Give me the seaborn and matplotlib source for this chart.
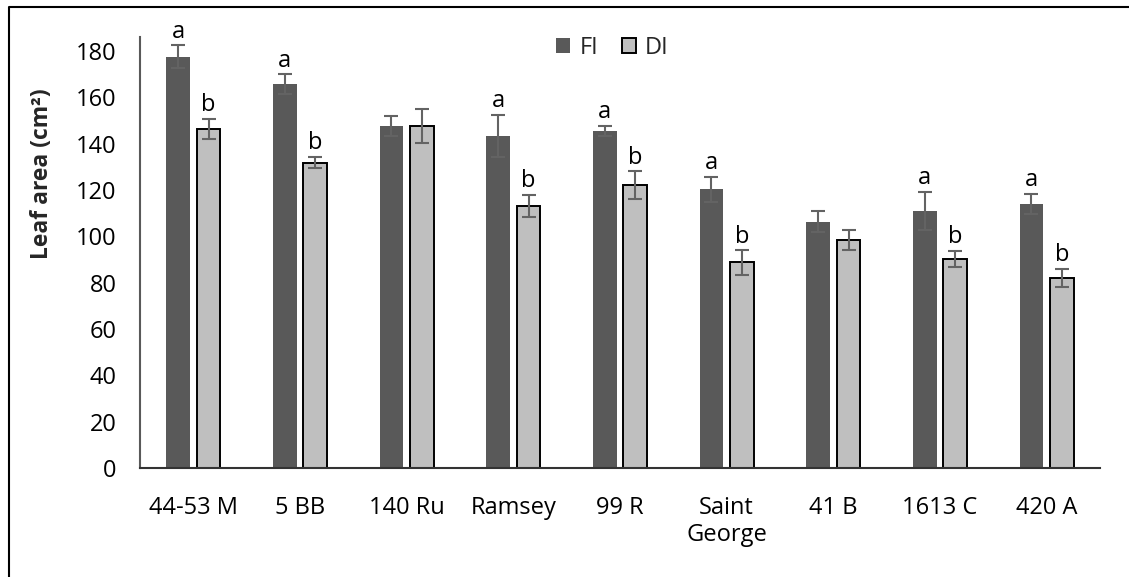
import matplotlib
matplotlib.use("Agg")
import matplotlib.pyplot as plt
import seaborn as sns
import pandas as pd
import numpy as np
from matplotlib.patches import Patch
from matplotlib.lines import Line2D

categories = ["44-53 M", "5 BB", "140 Ru", "Ramsey", "99 R", "Saint\nGeorge", "41 B", "1613 C", "420 A"]
fi = [177.5, 165.7, 147.6, 143.4, 145.6, 120.3, 106.3, 110.9, 114.1]
fi_err = [5.0, 4.3, 4.3, 9.0, 2.2, 5.4, 4.6, 8.4, 4.3]
di = [146.4, 131.8, 147.6, 113.1, 122.0, 88.8, 98.4, 90.2, 82.1]
di_err = [4.3, 2.5, 7.3, 4.8, 6.0, 5.3, 4.3, 3.5, 3.9]
fi_letters = ["a", "a", "", "a", "a", "a", "", "a", "a"]
di_letters = ["b", "b", "", "b", "b", "b", "", "b", "b"]
series = ["FI", "DI"]
y_ticks = [0, 20, 40, 60, 80, 100, 120, 140, 160, 180]

sns.set_style("white")
plt.rcParams["font.family"] = ["Open Sans", "DejaVu Sans"]

df = pd.DataFrame({
    "Genotype": categories * 2,
    "Treatment": [series[0]] * len(categories) + [series[1]] * len(categories),
    "Leaf area": fi + di,
})

fig = plt.figure(figsize=(11.29, 5.77), dpi=100)
ax = fig.add_axes([140 / 1129, 1 - 468 / 577, 960 / 1129, 431 / 577])

fi_color = "#595959"
di_color = "#bfbfbf"
sns.barplot(data=df, x="Genotype", y="Leaf area", hue="Treatment",
            hue_order=series, palette=[fi_color, di_color],
            errorbar=None, width=0.57, gap=0.23, ax=ax, saturation=1)

if ax.get_legend() is not None:
    ax.get_legend().remove()

for p in ax.containers[0]:
    p.set_edgecolor("none")
for p in ax.containers[1]:
    p.set_edgecolor("black")
    p.set_linewidth(1.4)

for cont, vals, errs, letters in [(ax.containers[0], fi, fi_err, fi_letters),
                                  (ax.containers[1], di, di_err, di_letters)]:
    xs = [p.get_x() + p.get_width() / 2 for p in cont]
    ax.errorbar(xs, vals, yerr=errs, fmt="none", ecolor="#636363",
                elinewidth=1.5, capsize=4.7, capthick=1.5, zorder=5)
    for x, v, e, t in zip(xs, vals, errs, letters):
        if t:
            ax.annotate(t, (x, v + e), xytext=(0, 1), textcoords="offset points",
                        ha="center", va="bottom", fontsize=17, color="black")

ax.set_ylim(0, 186)
ax.set_xlim(-0.5, len(categories) - 0.5)
ax.set_yticks(y_ticks)
ax.tick_params(axis="both", length=0, labelsize=17, colors="black")
ax.tick_params(axis="y", pad=17)
ax.tick_params(axis="x", pad=20)
ax.set_xlabel("")
ax.set_ylabel("Leaf area (cm²)", fontsize=16.5, fontweight="bold")
ax.yaxis.set_label_coords(-0.09, 0.684)

for s in ["top", "right"]:
    ax.spines[s].set_visible(False)
ax.spines["left"].set_color("#595959")
ax.spines["left"].set_linewidth(1.5)
ax.spines["bottom"].set_color("#333333")
ax.spines["bottom"].set_linewidth(1.5)

handles = [Patch(facecolor=fi_color, edgecolor="none", label=series[0]),
           Patch(facecolor=di_color, edgecolor="black", linewidth=1.4, label=series[1])]
ax.legend(handles=handles, loc="center", bbox_to_anchor=(0.492, 0.975), ncol=2,
          frameon=False, fontsize=17, handlelength=0.6, handleheight=0.6,
          handletextpad=0.4, columnspacing=1.0)

# outer border (top and left only visible)
bx = 9 / 1129
by = 1 - 7 / 577
fig.add_artist(Line2D([bx, bx, 1.0], [0.0, by, by], transform=fig.transFigure,
                      color="black", linewidth=1.5))

fig.savefig("out.png", dpi=100)
